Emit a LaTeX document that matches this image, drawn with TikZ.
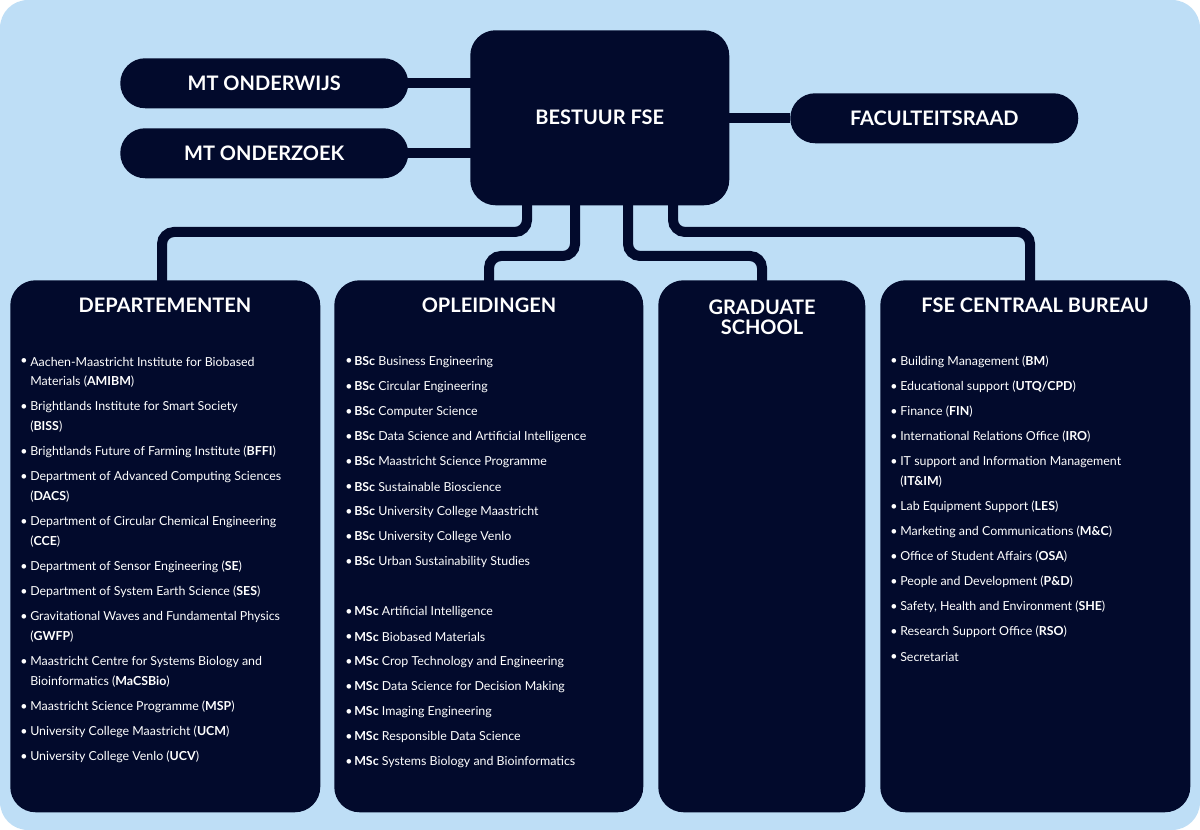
\documentclass[tikz,border=0pt]{standalone}
\usepackage{fontspec}
\setmainfont{Lato}
\begin{document}
\definecolor{bg}{HTML}{BEDEF6}
\definecolor{nv}{HTML}{020A2C}
\begin{tikzpicture}[x=0.75pt,y=-0.75pt,
  box/.style={fill=nv,rounded corners=19pt},
  pill/.style={fill=nv,rounded corners=18.7pt},
  conn/.style={draw=nv,line width=7.5pt,rounded corners=9pt},
  ttl/.style={text=white,font=\fontsize{15}{18}\selectfont\bfseries,align=center},
  li/.style={text=white,font=\fontsize{9.3}{10}\selectfont,anchor=west,inner sep=0pt},
  bl/.style={text=white,font=\fontsize{9.3}{10}\selectfont,anchor=west,inner sep=0pt}]
\useasboundingbox (0,0) rectangle (1200,830);
\fill[white] (0,0) rectangle (1200,830);
\fill[bg,rounded corners=21pt] (0,0) rectangle (1200,830);
% connectors
\draw[conn] (408,83) -- (480,83);
\draw[conn] (408,153) -- (480,153);
\draw[conn] (720,118) -- (790,118);
\draw[conn] (527,190) -- (527,232) -- (162,232) -- (162,290);
\draw[conn] (575,190) -- (575,256) -- (489,256) -- (489,290);
\draw[conn] (628,190) -- (628,256) -- (762,256) -- (762,290);
\draw[conn] (673,190) -- (673,232) -- (1030,232) -- (1030,290);
% top nodes
\node[box,minimum width=194.25pt,minimum height=131.25pt,anchor=north west] (bestuur) at (470,30) {};
\node[ttl] at (bestuur.center) {BESTUUR FSE};
\node[pill,minimum width=216pt,minimum height=37.5pt,anchor=north west] (mto) at (120,58) {};
\node[ttl] at (mto.center) {MT ONDERWIJS};
\node[pill,minimum width=216pt,minimum height=37.5pt,anchor=north west] (mtz) at (120,128) {};
\node[ttl] at (mtz.center) {MT ONDERZOEK};
\node[pill,minimum width=216pt,minimum height=37.5pt,anchor=north west] (fr) at (790,93) {};
\node[ttl] at (fr.center) {FACULTEITSRAAD};
% big boxes
\node[box,minimum width=232.5pt,minimum height=399pt,anchor=north west] (dep) at (10,280) {};
\node[box,minimum width=231.75pt,minimum height=399pt,anchor=north west] (opl) at (334,280) {};
\node[box,minimum width=155.25pt,minimum height=399pt,anchor=north west] (gs) at (658,280) {};
\node[box,minimum width=232.5pt,minimum height=399pt,anchor=north west] (cb) at (880,280) {};
\node[ttl] at (165,305) {DEPARTEMENTEN};
\node[ttl] at (489,305) {OPLEIDINGEN};
\node[ttl] at (762,317) {GRADUATE\\[-3pt]SCHOOL};
\node[ttl] at (1035,305) {FSE CENTRAAL BUREAU};
% Departementen
\foreach \y/\t in {362/{Aachen-Maastricht Institute for Biobased},407/{Brightlands Institute for Smart Society},452/{Brightlands Future of Farming Institute (\textbf{BFFI})},477/{Department of Advanced Computing Sciences},522/{Department of Circular Chemical Engineering},567/{Department of Sensor Engineering (\textbf{SE})},592/{Department of System Earth Science (\textbf{SES})},617/{Gravitational Waves and Fundamental Physics},662/{Maastricht Centre for Systems Biology and},707/{Maastricht Science Programme (\textbf{MSP})},732/{University College Maastricht (\textbf{UCM})},757/{University College Venlo (\textbf{UCV})}}
{\node[bl] at (20,\y) {•}; \node[li] at (30,\y) {\t};}
\foreach \y/\t in {382/{Materials (\textbf{AMIBM})},427/{(\textbf{BISS})},497/{(\textbf{DACS})},542/{(\textbf{CCE})},637/{(\textbf{GWFP})},682/{Bioinformatics (\textbf{MaCSBio})}}
{\node[li] at (30,\y) {\t};}
% Opleidingen
\foreach \y/\t in {362/{\textbf{BSc} Business Engineering},387/{\textbf{BSc} Circular Engineering},412/{\textbf{BSc} Computer Science},437/{\textbf{BSc} Data Science and Artificial Intelligence},462/{\textbf{BSc} Maastricht Science Programme},487/{\textbf{BSc} Sustainable Bioscience},512/{\textbf{BSc} University College Maastricht},537/{\textbf{BSc} University College Venlo},562/{\textbf{BSc} Urban Sustainability Studies},612/{\textbf{MSc} Artificial Intelligence},637/{\textbf{MSc} Biobased Materials},662/{\textbf{MSc} Crop Technology and Engineering},687/{\textbf{MSc} Data Science for Decision Making},712/{\textbf{MSc} Imaging Engineering},737/{\textbf{MSc} Responsible Data Science},762/{\textbf{MSc} Systems Biology and Bioinformatics}}
{\node[bl] at (345,\y) {•}; \node[li] at (354,\y) {\t};}
% Centraal bureau
\foreach \y/\t in {362/{Building Management (\textbf{BM})},387/{Educational support (\textbf{UTQ/CPD})},412/{Finance (\textbf{FIN})},437/{International Relations Office (\textbf{IRO})},462/{IT support and Information Management},507/{Lab Equipment Support (\textbf{LES})},532/{Marketing and Communications (\textbf{M\&C})},557/{Office of Student Affairs (\textbf{OSA})},582/{People and Development (\textbf{P\&D})},607/{Safety, Health and Environment (\textbf{SHE})},632/{Research Support Office (\textbf{RSO})},657/{Secretariat}}
{\node[bl] at (890,\y) {•}; \node[li] at (900,\y) {\t};}
\node[li] at (900,482) {(\textbf{IT\&IM})};
\end{tikzpicture}
\end{document}
